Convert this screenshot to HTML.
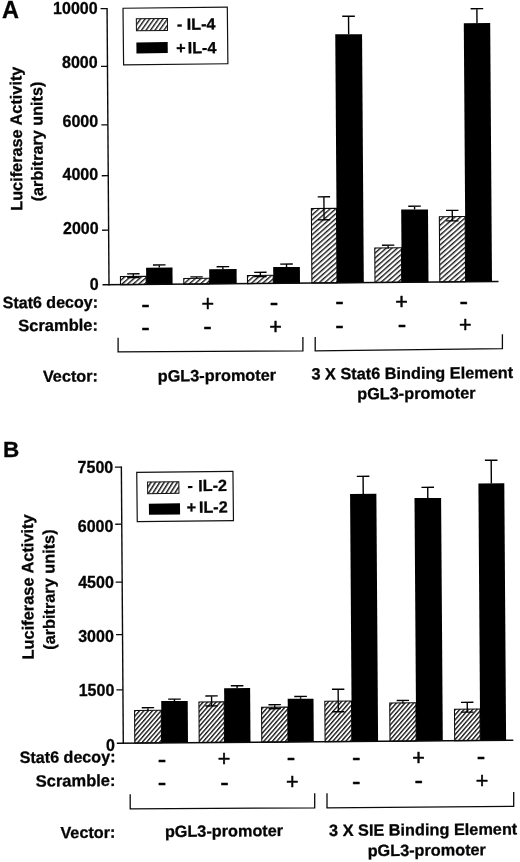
<!DOCTYPE html>
<html lang="en"><head><meta charset="utf-8"><title>Figure</title>
<style>html,body{margin:0;padding:0;background:#fff;}body{width:520px;height:862px;overflow:hidden;}svg{display:block;}text{font-family:'Liberation Sans', Arial, Helvetica, sans-serif;font-weight:bold;fill:#050505;stroke:#050505;stroke-width:0.3px;stroke-linejoin:round;}</style>
</head><body>
<svg width="520" height="862" viewBox="0 0 520 862">
<defs><pattern id="hA" patternUnits="userSpaceOnUse" width="8" height="3.7" patternTransform="rotate(-41)"><rect width="8" height="3.7" fill="#fff"/><rect x="0" y="0" width="8" height="1.4" fill="#1a1a1a"/></pattern><pattern id="hLA" patternUnits="userSpaceOnUse" width="8" height="3.65" patternTransform="rotate(-54)"><rect width="8" height="3.65" fill="#fff"/><rect x="0" y="0" width="8" height="1.4" fill="#1a1a1a"/></pattern><pattern id="hB" patternUnits="userSpaceOnUse" width="8" height="3.25" patternTransform="rotate(-48.5)"><rect width="8" height="3.25" fill="#fff"/><rect x="0" y="0" width="8" height="1.4" fill="#1a1a1a"/></pattern><pattern id="hLB" patternUnits="userSpaceOnUse" width="8" height="3.7" patternTransform="rotate(-57)"><rect width="8" height="3.7" fill="#fff"/><rect x="0" y="0" width="8" height="1.5" fill="#1a1a1a"/></pattern></defs>
<rect width="520" height="862" fill="#fff"/>
<g transform="matrix(1,-0.0085,0.007,1,109.0,284.8)">
<rect x="11.50" y="-8.10" width="25.70" height="8.10" fill="url(#hA)" stroke="#0a0a0a" stroke-width="1.05"/>
<path d="M24.40,-10.80V-7.00M18.20,-10.80h12.4M18.20,-7.00h12.4" stroke="#000" stroke-width="1.35" fill="none"/>
<rect x="37.20" y="-16.80" width="26.40" height="17.10" fill="#000"/>
<path d="M50.40,-19.40V-16.80M44.10,-19.40h12.6" stroke="#000" stroke-width="1.4" fill="none"/>
<rect x="74.80" y="-5.70" width="25.50" height="5.70" fill="url(#hA)" stroke="#0a0a0a" stroke-width="1.05"/>
<path d="M87.60,-7.20V-5.60M81.40,-7.20h12.4" stroke="#000" stroke-width="1.35" fill="none"/>
<rect x="100.30" y="-14.60" width="27.40" height="14.90" fill="#000"/>
<path d="M114.00,-17.20V-14.60M107.70,-17.20h12.6" stroke="#000" stroke-width="1.4" fill="none"/>
<rect x="138.50" y="-8.10" width="25.80" height="8.10" fill="url(#hA)" stroke="#0a0a0a" stroke-width="1.05"/>
<path d="M151.45,-11.20V-7.00M145.25,-11.20h12.4M145.25,-7.00h12.4" stroke="#000" stroke-width="1.35" fill="none"/>
<rect x="164.30" y="-16.30" width="26.70" height="16.60" fill="#000"/>
<path d="M177.65,-19.20V-16.30M171.35,-19.20h12.6" stroke="#000" stroke-width="1.4" fill="none"/>
<rect x="202.90" y="-74.50" width="25.10" height="74.50" fill="url(#hA)" stroke="#0a0a0a" stroke-width="1.05"/>
<path d="M215.50,-86.20V-63.20M209.30,-86.20h12.4M209.30,-63.20h12.4" stroke="#000" stroke-width="1.35" fill="none"/>
<rect x="228.00" y="-248.50" width="26.80" height="248.80" fill="#000"/>
<path d="M241.40,-266.50V-248.50M235.10,-266.50h12.6" stroke="#000" stroke-width="1.4" fill="none"/>
<rect x="266.00" y="-34.50" width="26.70" height="34.50" fill="url(#hA)" stroke="#0a0a0a" stroke-width="1.05"/>
<path d="M279.40,-37.20V-33.80M273.20,-37.20h12.4" stroke="#000" stroke-width="1.35" fill="none"/>
<rect x="292.70" y="-72.70" width="26.80" height="73.00" fill="#000"/>
<path d="M306.10,-76.00V-72.70M299.80,-76.00h12.6" stroke="#000" stroke-width="1.4" fill="none"/>
<rect x="330.80" y="-65.20" width="25.80" height="65.20" fill="url(#hA)" stroke="#0a0a0a" stroke-width="1.05"/>
<path d="M343.75,-71.50V-61.00M337.55,-71.50h12.4M337.55,-61.00h12.4" stroke="#000" stroke-width="1.35" fill="none"/>
<rect x="356.60" y="-258.50" width="26.40" height="258.80" fill="#000"/>
<path d="M369.80,-273.00V-258.50M363.50,-273.00h12.6" stroke="#000" stroke-width="1.4" fill="none"/>
<path d="M0,-276.75V0.6" stroke="#0a0a0a" stroke-width="1.4" fill="none"/>
<path d="M-6.5,0H389.50" stroke="#0a0a0a" stroke-width="1.5" fill="none"/>
<path d="M-6.5,-276.15H0" stroke="#0a0a0a" stroke-width="1.3"/>
<path d="M-6.5,-218.50H0" stroke="#0a0a0a" stroke-width="1.3"/>
<path d="M-6.5,-160.00H0" stroke="#0a0a0a" stroke-width="1.3"/>
<path d="M-6.5,-109.10H0" stroke="#0a0a0a" stroke-width="1.3"/>
<path d="M-6.5,-54.60H0" stroke="#0a0a0a" stroke-width="1.3"/>
</g>
<text transform="translate(97.60,13.60) rotate(0)" font-size="16" text-anchor="end" >10000</text>
<text transform="translate(97.60,68.25) rotate(0)" font-size="16" text-anchor="end" >8000</text>
<text transform="translate(98.10,127.45) rotate(0)" font-size="16" text-anchor="end" >6000</text>
<text transform="translate(98.10,179.75) rotate(0)" font-size="16" text-anchor="end" >4000</text>
<text transform="translate(98.60,233.55) rotate(0)" font-size="16" text-anchor="end" >2000</text>
<text transform="translate(98.60,290.05) rotate(0)" font-size="16" text-anchor="end" >0</text>
<g transform="matrix(1,-0.0072,0.007,1,123.3,743.1)">
<rect x="11.50" y="-32.50" width="26.70" height="32.50" fill="url(#hB)" stroke="#0a0a0a" stroke-width="1.05"/>
<path d="M24.90,-35.20V-31.60M18.70,-35.20h12.4" stroke="#000" stroke-width="1.35" fill="none"/>
<rect x="38.20" y="-41.70" width="26.50" height="42.00" fill="#000"/>
<path d="M51.45,-43.60V-41.70M45.15,-43.60h12.6" stroke="#000" stroke-width="1.4" fill="none"/>
<rect x="75.90" y="-40.50" width="25.30" height="40.50" fill="url(#hB)" stroke="#0a0a0a" stroke-width="1.05"/>
<path d="M88.60,-46.50V-36.50M82.40,-46.50h12.4M82.40,-36.50h12.4" stroke="#000" stroke-width="1.35" fill="none"/>
<rect x="101.20" y="-54.20" width="26.00" height="54.50" fill="#000"/>
<path d="M114.20,-56.50V-54.20M107.90,-56.50h12.6" stroke="#000" stroke-width="1.4" fill="none"/>
<rect x="138.50" y="-34.80" width="26.20" height="34.80" fill="url(#hB)" stroke="#0a0a0a" stroke-width="1.05"/>
<path d="M151.65,-37.30V-33.30M145.45,-37.30h12.4M145.45,-33.30h12.4" stroke="#000" stroke-width="1.35" fill="none"/>
<rect x="164.70" y="-43.10" width="25.80" height="43.40" fill="#000"/>
<path d="M177.60,-45.40V-43.10M171.30,-45.40h12.6" stroke="#000" stroke-width="1.4" fill="none"/>
<rect x="201.80" y="-40.50" width="26.70" height="40.50" fill="url(#hB)" stroke="#0a0a0a" stroke-width="1.05"/>
<path d="M215.20,-52.30V-29.80M209.00,-52.30h12.4M209.00,-29.80h12.4" stroke="#000" stroke-width="1.35" fill="none"/>
<rect x="228.50" y="-247.40" width="26.30" height="247.70" fill="#000"/>
<path d="M241.65,-265.00V-247.40M235.35,-265.00h12.6" stroke="#000" stroke-width="1.4" fill="none"/>
<rect x="266.70" y="-38.20" width="26.20" height="38.20" fill="url(#hB)" stroke="#0a0a0a" stroke-width="1.05"/>
<path d="M279.85,-40.60V-37.40M273.65,-40.60h12.4" stroke="#000" stroke-width="1.35" fill="none"/>
<rect x="292.90" y="-242.90" width="26.60" height="243.20" fill="#000"/>
<path d="M306.20,-253.60V-242.90M299.90,-253.60h12.6" stroke="#000" stroke-width="1.4" fill="none"/>
<rect x="331.40" y="-31.50" width="25.50" height="31.50" fill="url(#hB)" stroke="#0a0a0a" stroke-width="1.05"/>
<path d="M344.20,-38.30V-28.50M338.00,-38.30h12.4M338.00,-28.50h12.4" stroke="#000" stroke-width="1.35" fill="none"/>
<rect x="356.90" y="-257.00" width="25.90" height="257.30" fill="#000"/>
<path d="M369.85,-280.20V-257.00M363.55,-280.20h12.6" stroke="#000" stroke-width="1.4" fill="none"/>
<path d="M0,-276.60V0.6" stroke="#0a0a0a" stroke-width="1.4" fill="none"/>
<path d="M-6.5,0H390.00" stroke="#0a0a0a" stroke-width="1.5" fill="none"/>
<path d="M-6.5,-276.00H0" stroke="#0a0a0a" stroke-width="1.3"/>
<path d="M-6.5,-218.90H0" stroke="#0a0a0a" stroke-width="1.3"/>
<path d="M-6.5,-161.00H0" stroke="#0a0a0a" stroke-width="1.3"/>
<path d="M-6.5,-108.50H0" stroke="#0a0a0a" stroke-width="1.3"/>
<path d="M-6.5,-53.30H0" stroke="#0a0a0a" stroke-width="1.3"/>
</g>
<text transform="translate(113.20,472.85) rotate(0)" font-size="16" text-anchor="end" >7500</text>
<text transform="translate(113.40,531.75) rotate(0)" font-size="16" text-anchor="end" >6000</text>
<text transform="translate(113.80,588.35) rotate(0)" font-size="16" text-anchor="end" >4500</text>
<text transform="translate(113.80,641.65) rotate(0)" font-size="16" text-anchor="end" >3000</text>
<text transform="translate(114.30,695.65) rotate(0)" font-size="16" text-anchor="end" >1500</text>
<text transform="translate(114.90,750.55) rotate(0)" font-size="16" text-anchor="end" >0</text>
<text transform="translate(1.90,18.00) rotate(0)" font-size="23.5" text-anchor="start" >A</text>
<text transform="translate(2.90,457.30) rotate(0)" font-size="22.5" text-anchor="start" >B</text>
<text transform="translate(21.90,138.70) rotate(-90.3)" font-size="16.3" text-anchor="middle" >Luciferase Activity</text>
<text transform="translate(42.60,141.50) rotate(-90.3)" font-size="16.2" text-anchor="middle" >(arbitrary units)</text>
<text transform="translate(33.40,586.90) rotate(-90.3)" font-size="16.4" text-anchor="middle" >Luciferase Activity</text>
<text transform="translate(54.60,589.60) rotate(-90.3)" font-size="16.3" text-anchor="middle" >(arbitrary units)</text>
<g transform="rotate(-0.6 175.4 36.0)">
<rect x="123.3" y="7.7" width="104.3" height="56.599999999999994" fill="#fff" stroke="#111" stroke-width="1.2"/>
<rect x="136.5" y="18.4" width="31.099999999999994" height="12.0" fill="url(#hLA)" stroke="#111" stroke-width="1"/>
<rect x="136.3" y="42" width="31.299999999999983" height="11" fill="#000"/>
<text y="29.8" font-size="16.2"><tspan x="177.0">-</tspan><tspan x="186.9">IL-4</tspan></text>
<text y="53.5" font-size="16.2"><tspan x="176.1">+</tspan><tspan x="187.5">IL-4</tspan></text>
</g>
<g transform="rotate(-0.6 185.1 496.5)">
<rect x="137.0" y="471.8" width="96.19999999999999" height="49.400000000000034" fill="#fff" stroke="#111" stroke-width="1.2"/>
<rect x="147.7" y="481.7" width="31.30000000000001" height="11.600000000000023" fill="url(#hLB)" stroke="#111" stroke-width="1"/>
<rect x="148.8" y="503.3" width="31.099999999999994" height="11.099999999999966" fill="#000"/>
<text y="491.3" font-size="16.2"><tspan x="187.6">-</tspan><tspan x="198.4">IL-2</tspan></text>
<text y="512.9" font-size="16.2"><tspan x="186.6">+</tspan><tspan x="198.8">IL-2</tspan></text>
</g>
<text transform="translate(98.00,307.60) rotate(-0.45)" font-size="16.4" text-anchor="end"  textLength="95.3" lengthAdjust="spacingAndGlyphs">Stat6 decoy:</text>
<text transform="translate(98.00,330.60) rotate(-0.45)" font-size="16.5" text-anchor="end" >Scramble:</text>
<text transform="translate(98.00,381.50) rotate(-0.45)" font-size="16.25" text-anchor="end" >Vector:</text>
<text x="145.40" y="312.90" font-size="25.5" text-anchor="middle" style="font-weight:normal;stroke-width:0.5px">-</text>
<text x="207.70" y="311.10" font-size="21.5" text-anchor="middle" style="font-weight:normal;stroke-width:0.5px">+</text>
<text x="274.10" y="311.20" font-size="25.5" text-anchor="middle" style="font-weight:normal;stroke-width:0.5px">-</text>
<text x="339.40" y="310.40" font-size="25.5" text-anchor="middle" style="font-weight:normal;stroke-width:0.5px">-</text>
<text x="401.60" y="308.60" font-size="21.5" text-anchor="middle" style="font-weight:normal;stroke-width:0.5px">+</text>
<text x="463.75" y="309.70" font-size="25.5" text-anchor="middle" style="font-weight:normal;stroke-width:0.5px">-</text>
<text x="145.50" y="336.00" font-size="25.5" text-anchor="middle" style="font-weight:normal;stroke-width:0.5px">-</text>
<text x="207.50" y="335.40" font-size="25.5" text-anchor="middle" style="font-weight:normal;stroke-width:0.5px">-</text>
<text x="275.50" y="333.85" font-size="21.5" text-anchor="middle" style="font-weight:normal;stroke-width:0.5px">+</text>
<text x="339.40" y="333.90" font-size="25.5" text-anchor="middle" style="font-weight:normal;stroke-width:0.5px">-</text>
<text x="401.90" y="332.70" font-size="25.5" text-anchor="middle" style="font-weight:normal;stroke-width:0.5px">-</text>
<text x="465.25" y="331.70" font-size="21.5" text-anchor="middle" style="font-weight:normal;stroke-width:0.5px">+</text>
<path d="M118.1,337.7V351.8L302.9,350.8V337" stroke="#0a0a0a" stroke-width="1.3" fill="none"/>
<path d="M315.2,337V350.8L502.4,348.7V334.3" stroke="#0a0a0a" stroke-width="1.3" fill="none"/>
<text transform="translate(216.90,381.00) rotate(-0.45)" font-size="16.25" text-anchor="middle" >pGL3-promoter</text>
<text transform="translate(412.30,378.80) rotate(-0.45)" font-size="16.3" text-anchor="middle" >3 X Stat6 Binding Element</text>
<text transform="translate(416.40,398.90) rotate(-0.45)" font-size="16.25" text-anchor="middle" >pGL3-promoter</text>
<text transform="translate(115.50,762.30) rotate(-0.45)" font-size="16.4" text-anchor="end"  textLength="95.8" lengthAdjust="spacingAndGlyphs">Stat6 decoy:</text>
<text transform="translate(115.50,786.00) rotate(-0.45)" font-size="16.5" text-anchor="end" >Scramble:</text>
<text transform="translate(115.50,837.80) rotate(-0.45)" font-size="16.25" text-anchor="end" >Vector:</text>
<text x="162.10" y="767.70" font-size="25.5" text-anchor="middle" style="font-weight:normal;stroke-width:0.5px">-</text>
<text x="224.10" y="766.10" font-size="21.5" text-anchor="middle" style="font-weight:normal;stroke-width:0.5px">+</text>
<text x="290.90" y="766.40" font-size="25.5" text-anchor="middle" style="font-weight:normal;stroke-width:0.5px">-</text>
<text x="356.25" y="765.55" font-size="25.5" text-anchor="middle" style="font-weight:normal;stroke-width:0.5px">-</text>
<text x="418.50" y="764.60" font-size="21.5" text-anchor="middle" style="font-weight:normal;stroke-width:0.5px">+</text>
<text x="480.90" y="765.40" font-size="25.5" text-anchor="middle" style="font-weight:normal;stroke-width:0.5px">-</text>
<text x="162.10" y="791.20" font-size="25.5" text-anchor="middle" style="font-weight:normal;stroke-width:0.5px">-</text>
<text x="224.40" y="790.55" font-size="25.5" text-anchor="middle" style="font-weight:normal;stroke-width:0.5px">-</text>
<text x="292.25" y="789.20" font-size="21.5" text-anchor="middle" style="font-weight:normal;stroke-width:0.5px">+</text>
<text x="356.25" y="789.70" font-size="25.5" text-anchor="middle" style="font-weight:normal;stroke-width:0.5px">-</text>
<text x="418.75" y="788.70" font-size="25.5" text-anchor="middle" style="font-weight:normal;stroke-width:0.5px">-</text>
<text x="482.10" y="787.85" font-size="21.5" text-anchor="middle" style="font-weight:normal;stroke-width:0.5px">+</text>
<path d="M130.2,794.2V808.9L314.7,807.8V793.3" stroke="#0a0a0a" stroke-width="1.3" fill="none"/>
<path d="M327,793.3V807.8L513.7,806.4V792" stroke="#0a0a0a" stroke-width="1.3" fill="none"/>
<text transform="translate(224.00,836.50) rotate(-0.45)" font-size="16.25" text-anchor="middle" >pGL3-promoter</text>
<text transform="translate(423.20,835.25) rotate(-0.45)" font-size="16.3" text-anchor="middle" >3 X SIE Binding Element</text>
<text transform="translate(426.80,855.70) rotate(-0.45)" font-size="16.25" text-anchor="middle" >pGL3-promoter</text>
</svg></body></html>
